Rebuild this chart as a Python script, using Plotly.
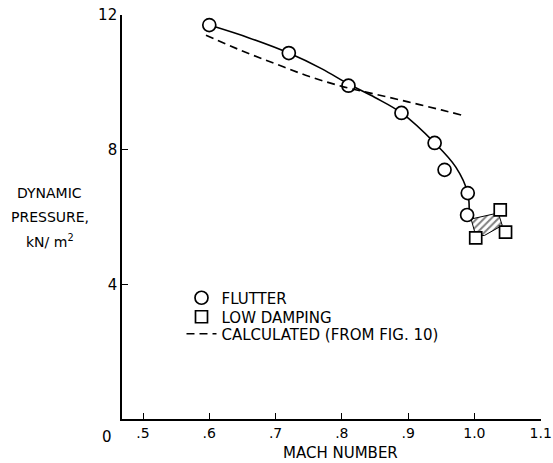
import plotly.graph_objects as go

# Flutter points (Mach number, dynamic pressure kN/m^2)
flutter_mach = [0.60, 0.72, 0.81, 0.89, 0.94, 0.955, 0.99, 0.989]
flutter_q = [11.70, 10.87, 9.90, 9.09, 8.20, 7.40, 6.71, 6.06]

# Faired curve through flutter points
fair_mach = [0.60, 0.66, 0.72, 0.77, 0.81, 0.85, 0.89, 0.94, 0.972, 0.99, 0.992]
fair_q = [11.70, 11.32, 10.87, 10.40, 9.95, 9.55, 9.09, 8.20, 7.48, 6.71, 6.10]

# Low damping points
damp_mach = [1.002, 1.039, 1.047]
damp_q = [5.38, 6.21, 5.55]

# Hatched region
hatch_mach = [0.995, 1.036, 1.042, 1.015, 1.002, 0.995]
hatch_q = [5.94, 6.12, 5.75, 5.45, 5.45, 5.94]

# Calculated curve (from Fig. 10)
calc_mach = [0.595, 0.65, 0.70, 0.75, 0.80, 0.85, 0.90, 0.95, 0.98]
calc_q = [11.40, 10.93, 10.55, 10.18, 9.88, 9.65, 9.42, 9.18, 9.03]

x_ticks = [0.5, 0.6, 0.7, 0.8, 0.9, 1.0, 1.1]
x_tick_text = [".5", ".6", ".7", ".8", ".9", "1.0", "1.1"]
y_ticks = [4, 8, 12]
y_tick_text = ["4", "8", "12"]

FONT = "DejaVu Sans, Verdana, sans-serif"

fig = go.Figure()

fig.add_trace(go.Scatter(
    x=hatch_mach, y=hatch_q, mode="lines", fill="toself",
    fillcolor="white",
    fillpattern=dict(shape="/", fgcolor="black", bgcolor="white", size=5, solidity=0.4),
    line=dict(color="black", width=1), showlegend=False, hoverinfo="skip"))

fig.add_trace(go.Scatter(
    x=fair_mach, y=fair_q, mode="lines", line=dict(color="black", width=1.6, shape="spline"),
    showlegend=False))

fig.add_trace(go.Scatter(
    x=flutter_mach, y=flutter_q, mode="markers", name="FLUTTER", legend="legend",
    marker=dict(symbol="circle", size=13, color="white", line=dict(color="black", width=1.7))))

fig.add_trace(go.Scatter(
    x=damp_mach, y=damp_q, mode="markers", name="LOW DAMPING", legend="legend2",
    marker=dict(symbol="square", size=12, color="white", line=dict(color="black", width=1.7))))

fig.add_trace(go.Scatter(
    x=calc_mach, y=calc_q, mode="lines", name="CALCULATED (FROM FIG. 10)", legend="legend3",
    line=dict(color="black", width=1.7, dash="8px,5px", shape="spline")))

leg_common = dict(x=0.142, xanchor="left", yanchor="middle", bgcolor="rgba(0,0,0,0)",
                  font=dict(size=15, family=FONT), itemwidth=30, borderwidth=0)

fig.update_layout(
    width=553, height=463, autosize=False,
    margin=dict(l=122, r=12, t=15, b=44, autoexpand=False),
    paper_bgcolor="white", plot_bgcolor="white",
    font=dict(family=FONT, size=15, color="black"),
    showlegend=True,
    legend=dict(y=0.2995, **leg_common),
    legend2=dict(y=0.2525, **leg_common),
    legend3=dict(y=0.2104, **leg_common),
    xaxis=dict(range=[0.4683, 1.1005], showgrid=False, zeroline=False, automargin=False,
               showline=True, linecolor="black", linewidth=1.6,
               ticks="inside", ticklen=6, tickcolor="black", tickwidth=1.3,
               tickvals=x_ticks, ticktext=x_tick_text, ticklabeloverflow="allow",
               tickfont=dict(size=14, family=FONT)),
    yaxis=dict(range=[0, 12], showgrid=False, zeroline=False, automargin=False,
               showline=True, linecolor="black", linewidth=1.6,
               ticks="inside", ticklen=6, tickcolor="black", tickwidth=1.3,
               tickvals=y_ticks, ticktext=y_tick_text, ticklabeloverflow="allow",
               tickfont=dict(size=15, family=FONT)),
)

fig.add_annotation(text="0", xref="paper", yref="paper", x=-0.035, y=-0.045,
                   showarrow=False, font=dict(size=15, family=FONT), xanchor="center", yanchor="middle")
fig.add_annotation(text="MACH NUMBER", xref="paper", yref="paper", x=0.522, y=-0.084,
                   showarrow=False, font=dict(size=15, family=FONT), xanchor="center", yanchor="middle")
for txt, yy in [("DYNAMIC", 0.559), ("PRESSURE,", 0.500), ("kN/ m<sup>2</sup>", 0.440)]:
    fig.add_annotation(text=txt, xref="paper", yref="paper", x=-0.172, y=yy,
                       showarrow=False, align="center",
                       font=dict(size=14, family=FONT), xanchor="center", yanchor="middle")

fig.write_html("out.html")
